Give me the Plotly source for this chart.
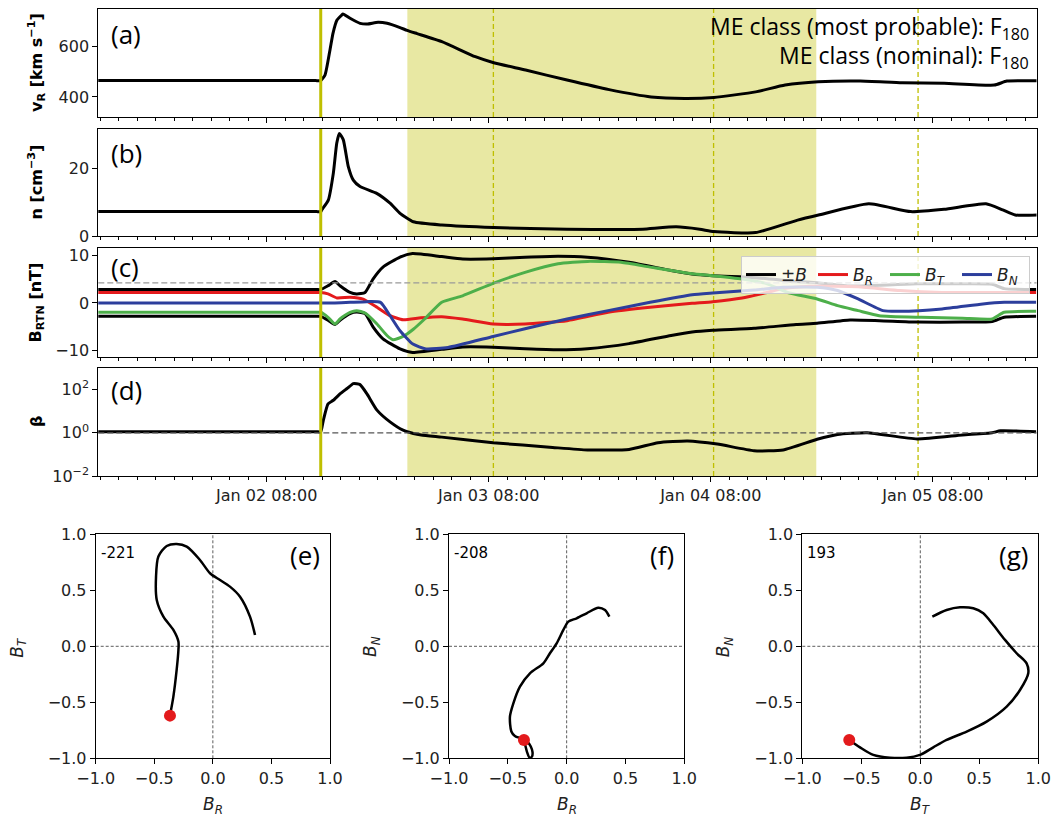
import pandas as pd
import plotly.graph_objects as go

# ---------------- data (time in hours relative to Jan 02 08:00) ----------------
T_REF = pd.Timestamp("2024-01-02 08:00")
X_RANGE_H = [-18.2, 83.2]
SHOCK_H = 5.84
ME_START_H = 15.2
ME_END_H = 59.4
DASHED_H = [24.5, 48.3, 70.4]

v_hours = [-18.3, -6.0, 4.0, 5.3, 5.8, 6.3, 6.84, 7.17, 7.6, 8.11, 8.25, 9.01, 10.09, 10.84, 12.03, 13.01,
           14.41, 15.17, 16.25, 18.93, 22.55, 24.54, 27.98, 32.46, 37.01, 41.55, 45.17, 48.33, 52.85,
           56.03, 59.6, 64.14, 68.68, 73.22, 78.63, 80.0, 83.35]
v_vals = [465, 465, 465, 465, 465, 487, 587, 654, 706, 726, 730, 713, 693, 690, 697, 693,
          676, 665, 652, 620, 560, 536, 507, 467, 429, 400, 394, 398, 420,
          447, 460, 463, 456, 454, 447, 463, 464]

n_hours = [-18.3, -6.0, 4.0, 5.4, 5.84, 5.95, 6.66, 7.2, 7.57, 7.85, 8.28, 8.82, 9.36, 10.09, 11.89,
           13.33, 14.41, 15.85, 18.93, 24.54, 32.46, 38.2, 40.65, 44.25, 46.8, 48.33, 52.85, 57.38,
           59.64, 65.07, 69.6, 73.22, 77.74, 79.55, 80.9, 83.35]
n_vals = [7.2, 7.2, 7.2, 7.2, 7.2, 7.7, 10.6, 18.5, 27.4, 30.3, 28.4, 20.5, 16.5, 14.6, 12.6,
          9.7, 6.7, 4.2, 3.25, 2.5, 2.0, 1.9, 2.0, 2.7, 2.0, 1.3, 1.0, 4.7,
          6.2, 9.5, 7.2, 7.9, 9.5, 7.7, 6.2, 6.2]

b_hours = [-18.3, -6.0, 4.0, 5.4, 5.84, 6.63, 7.38, 7.92, 9.01, 9.73, 10.63, 11.49, 12.57, 14.41,
           15.76, 18.92, 21.17, 24.47, 27.92, 31.49, 34.68, 39.17, 43.71, 45.98, 48.2, 52.68,
           57.22, 59.49, 63.06, 66.2, 70.3, 75.17, 78.41, 79.71, 83.17]
b_mag = [2.8, 2.8, 2.8, 2.8, 2.8, 3.6, 4.5, 3.6, 2.2, 1.9, 2.2, 5.0, 7.5, 9.6,
         10.35, 9.7, 9.2, 9.25, 9.55, 9.76, 9.55, 8.5, 6.8, 6.07, 5.7, 5.3,
         4.5, 4.25, 3.55, 3.7, 4.0, 4.0, 3.9, 3.0, 2.8]

br_hours = [-18.3, -6.0, 4.0, 5.4, 5.84, 6.63, 7.6, 9.01, 10.42, 11.92, 13.33, 14.74, 16.68, 18.92,
            21.17, 24.47, 27.92, 32.46, 36.9, 41.44, 45.98, 48.2, 51.38, 54.09, 55.82, 58.73,
            63.92, 68.46, 73.0, 78.0, 83.17]
br_vals = [2.2, 2.2, 2.2, 2.2, 2.2, 1.9, 1.05, 1.2, 0.8, -0.9, -2.65, -3.5, -3.1, -2.86,
           -3.35, -4.4, -4.4, -3.7, -1.95, -0.9, -0.07, 0.28, 1.05, 2.2, 3.0, 3.5,
           3.4, 2.6, 2.2, 2.2, 2.2]

bt_hours = [-18.3, -6.0, 4.0, 5.4, 5.84, 6.63, 7.38, 7.92, 9.01, 9.73, 10.63, 11.92, 13.0, 13.65,
            14.74, 15.85, 17.1, 18.92, 21.17, 24.47, 27.92, 31.49, 34.68, 38.3, 41.44, 45.98,
            48.2, 51.38, 54.09, 56.3, 59.49, 61.7, 63.92, 66.2, 70.75, 75.2, 78.41, 79.71, 83.17]
bt_vals = [-1.95, -1.95, -1.95, -1.95, -1.95, -3.0, -4.4, -3.35, -1.95, -1.6, -2.1, -4.4, -6.8, -7.7,
           -7.0, -5.5, -3.3, 0.14, 1.5, 4.1, 6.4, 8.2, 8.7, 8.5, 7.5, 6.1,
           5.7, 5.0, 4.0, 2.2, 0.84, -0.56, -1.6, -2.65, -3.0, -3.2, -3.35, -1.95, -1.75]

bn_hours = [-18.3, -6.0, 4.0, 5.84, 7.2, 9.01, 10.84, 12.3, 13.33, 14.41, 15.8, 17.2, 19.6, 24.47,
            27.92, 32.46, 36.9, 41.44, 45.98, 48.2, 52.68, 55.82, 59.49, 61.7, 63.92, 66.6,
            68.46, 73.0, 77.4, 79.71, 83.17]
bn_vals = [0.0, 0.0, 0.0, 0.0, 0.0, 0.14, 0.28, 0.14, -2.65, -5.8, -8.6, -9.6, -9.3, -7.0,
           -5.4, -3.35, -1.6, 0.14, 1.74, 2.1, 2.7, 3.3, 3.3, 2.6, 0.84, -1.6,
           -1.75, -1.25, -0.2, 0.14, 0.14]

beta_hours = [-18.3, -6.0, 4.0, 5.4, 5.84, 6.12, 6.63, 7.2, 7.92, 8.68, 9.36, 10.09, 10.84, 11.92,
              13.33, 14.74, 15.85, 16.7, 18.92, 24.47, 30.9, 34.68, 39.17, 42.3, 45.5, 48.7,
              52.68, 55.82, 59.49, 61.7, 64.9, 70.3, 75.17, 78.41, 79.3, 83.17]
beta_vals = [1.12, 1.12, 1.12, 1.12, 1.12, 3.8, 22, 32, 63, 112, 190, 170, 63, 11.2,
             3.2, 1.32, 0.93, 0.79, 0.63, 0.35, 0.21, 0.16, 0.17, 0.35, 0.42, 0.30,
             0.148, 0.16, 0.5, 0.83, 1.0, 0.52, 0.79, 1.0, 1.23, 1.12]

B_REF_LINE = 4.2
BETA_REF_LINE = 1.0

# hodograms (normalised components inside the ME)
e_br = [-0.366, -0.337, -0.309, -0.294, -0.294, -0.337, -0.422, -0.479, -0.485, -0.465, -0.394,
        -0.309, -0.223, -0.110, -0.024, 0.061, 0.146, 0.232, 0.317, 0.360]
e_bt = [-0.619, -0.449, -0.211, -0.033, 0.042, 0.146, 0.265, 0.414, 0.622, 0.801, 0.896,
        0.914, 0.890, 0.771, 0.652, 0.592, 0.533, 0.443, 0.265, 0.101]
f_br = [-0.363, -0.350, -0.335, -0.315, -0.295, -0.290, -0.305, -0.330, -0.380, -0.440, -0.470,
        -0.482, -0.453, -0.397, -0.312, -0.198, -0.142, -0.085, -0.028, 0.014, 0.085, 0.170,
        0.269, 0.326, 0.363]
f_bn = [-0.836, -0.89, -0.95, -0.995, -0.985, -0.945, -0.895, -0.855, -0.825, -0.80, -0.76,
        -0.628, -0.509, -0.360, -0.241, -0.152, -0.062, 0.027, 0.146, 0.220, 0.250, 0.295,
        0.345, 0.324, 0.265]
g_bt = [-0.602, -0.511, -0.398, -0.257, -0.116, -0.003, 0.110, 0.223, 0.393, 0.562, 0.732,
        0.845, 0.915, 0.901, 0.816, 0.718, 0.619, 0.534, 0.449, 0.336, 0.223, 0.102]
g_bn = [-0.836, -0.902, -0.970, -0.995, -0.995, -0.970, -0.902, -0.836, -0.762, -0.673, -0.539,
        -0.390, -0.241, -0.152, -0.062, 0.057, 0.190, 0.295, 0.339, 0.348, 0.324, 0.265]
hodo_numbers = ["-221", "-208", "193"]
hodo_letters = ["(e)", "(f)", "(g)"]
me_class_lines = ["ME class (most probable): F<sub>180</sub>",
                  "ME class (nominal): F<sub>180</sub>"]

# ---------------- helpers ----------------
W, H = 1055, 821


def t(hours):
    return [T_REF + pd.Timedelta(hours=h) for h in hours]


def ts(h):
    return (T_REF + pd.Timedelta(hours=h)).strftime("%Y-%m-%d %H:%M:%S")


def px(x):
    return x / W


def py(y):
    return 1 - y / H


TICKFONT = dict(family="DejaVu Sans", size=16, color="#222")
YELLOW = "#bfbf00"
RED, GREEN, BLUE = "#e41a1c", "#4daf4a", "#2c3e9c"
TOP_LINE = dict(width=3, shape="spline", smoothing=0.5)

fig = go.Figure()

# panel a
fig.add_trace(go.Scatter(x=t(v_hours), y=v_vals, mode="lines", line=dict(color="black", **TOP_LINE),
                         showlegend=False, xaxis="x", yaxis="y"))
# panel b
fig.add_trace(go.Scatter(x=t(n_hours), y=n_vals, mode="lines", line=dict(color="black", **TOP_LINE),
                         showlegend=False, xaxis="x2", yaxis="y2"))
# panel c
fig.add_trace(go.Scatter(x=t(b_hours), y=b_mag, mode="lines", line=dict(color="black", **TOP_LINE),
                         name="±<i>B</i>", legendgroup="b", xaxis="x3", yaxis="y3"))
fig.add_trace(go.Scatter(x=t(b_hours), y=[-v for v in b_mag], mode="lines",
                         line=dict(color="black", **TOP_LINE), showlegend=False, legendgroup="b",
                         xaxis="x3", yaxis="y3"))
fig.add_trace(go.Scatter(x=t(br_hours), y=br_vals, mode="lines", line=dict(color=RED, **TOP_LINE),
                         name="<i>B</i><sub><i>R</i></sub>", xaxis="x3", yaxis="y3"))
fig.add_trace(go.Scatter(x=t(bt_hours), y=bt_vals, mode="lines", line=dict(color=GREEN, **TOP_LINE),
                         name="<i>B</i><sub><i>T</i></sub>", xaxis="x3", yaxis="y3"))
fig.add_trace(go.Scatter(x=t(bn_hours), y=bn_vals, mode="lines", line=dict(color=BLUE, **TOP_LINE),
                         name="<i>B</i><sub><i>N</i></sub>", xaxis="x3", yaxis="y3"))
# panel d
fig.add_trace(go.Scatter(x=t(beta_hours), y=beta_vals, mode="lines", line=dict(color="black", **TOP_LINE),
                         showlegend=False, xaxis="x4", yaxis="y4"))

# hodograms
for i, (hx, hy) in enumerate([(e_br, e_bt), (f_br, f_bn), (g_bt, g_bn)]):
    ax = str(5 + i)
    fig.add_trace(go.Scatter(x=hx, y=hy, mode="lines",
                             line=dict(color="black", width=2.5, shape="spline", smoothing=0.8),
                             showlegend=False, xaxis="x" + ax, yaxis="y" + ax))
    fig.add_trace(go.Scatter(x=[hx[0]], y=[hy[0]], mode="markers", marker=dict(color="#e31a1c", size=12),
                             showlegend=False, xaxis="x" + ax, yaxis="y" + ax, cliponaxis=False))

# ---------------- axes ----------------
top_x_dom = [px(98.3), px(1036.5)]
top_y_px = [(9, 117), (129, 236), (248, 357), (368, 476)]
for i, (y0, y1) in enumerate(top_y_px):
    k = "" if i == 0 else str(i + 1)
    fig.layout["xaxis" + k] = dict(
        domain=top_x_dom, anchor="y" + k, type="date", range=[ts(X_RANGE_H[0]), ts(X_RANGE_H[1])],
        autorange=False, automargin=False,
        showline=True, linecolor="black", linewidth=1, mirror=True, ticks="outside", ticklen=5,
        tickcolor="black", tick0=ts(0), dtick=86400000, tickformat="%b %d %H:%M",
        showticklabels=(i == 3), tickfont=TICKFONT, showgrid=False, zeroline=False,
        minor=dict(ticks="outside", ticklen=3, tickcolor="black", dtick=7200000, tick0=ts(0), showgrid=False))
    fig.layout["yaxis" + k] = dict(
        domain=[py(y1), py(y0)], anchor="x" + k, showline=True, linecolor="black", linewidth=1,
        mirror=True, ticks="outside", ticklen=5, tickcolor="black", tickfont=TICKFONT,
        showgrid=False, zeroline=False, automargin=False, autorange=False)

fig.layout.yaxis.update(range=[320, 750], tickvals=[400, 600])
fig.layout.yaxis2.update(range=[0, 31.6], tickvals=[0, 20])
fig.layout.yaxis3.update(range=[-11.3, 11.5], tickvals=[-10, 0, 10], ticktext=["−10", "0", "10"])
fig.layout.yaxis4.update(type="log", range=[-2, 3], tickvals=[0.01, 1, 100],
                         ticktext=["10<sup>−2</sup>", "10<sup>0</sup>", "10<sup>2</sup>"])

hodo_x_px = [(95.7, 330), (449, 684.3), (802.3, 1038.3)]
hodo_y_dom = [py(758.3), py(534.3)]
for i, (x0, x1) in enumerate(hodo_x_px):
    k = str(5 + i)
    common = dict(range=[-1, 1], autorange=False, automargin=False, tickvals=[-1, -0.5, 0, 0.5, 1],
                  tickformat=".1f", showline=True,
                  linecolor="black", linewidth=1, mirror=True, ticks="outside", ticklen=5,
                  tickcolor="black", tickfont=TICKFONT, showgrid=False, zeroline=False)
    fig.layout["xaxis" + k] = dict(domain=[px(x0), px(x1)], anchor="y" + k, **common)
    fig.layout["yaxis" + k] = dict(domain=hodo_y_dom, anchor="x" + k, **common)

# ---------------- shapes ----------------
shapes = []
for i in range(4):
    k = "" if i == 0 else str(i + 1)
    shapes.append(dict(type="rect", xref="x" + k, yref="y" + k + " domain", x0=ts(ME_START_H), x1=ts(ME_END_H),
                       y0=0, y1=1, fillcolor="rgba(191,191,0,0.36)", line=dict(width=0), layer="below"))
    for dh in DASHED_H:
        shapes.append(dict(type="line", xref="x" + k, yref="y" + k + " domain", x0=ts(dh), x1=ts(dh), y0=0, y1=1,
                           line=dict(color=YELLOW, width=1.3, dash="5px,3px"), layer="below"))
    shapes.append(dict(type="line", xref="x" + k, yref="y" + k + " domain", x0=ts(SHOCK_H), x1=ts(SHOCK_H),
                       y0=0, y1=1, line=dict(color=YELLOW, width=3), layer="above"))
shapes.append(dict(type="line", xref="x3 domain", yref="y3", x0=0, x1=1, y0=B_REF_LINE, y1=B_REF_LINE,
                   line=dict(color="#999", width=1.3, dash="6px,3px"), layer="above"))
shapes.append(dict(type="line", xref="x4 domain", yref="y4", x0=0, x1=1, y0=BETA_REF_LINE, y1=BETA_REF_LINE,
                   line=dict(color="#555", width=1.3, dash="6px,3px"), layer="above"))
for i in range(3):
    k = str(5 + i)
    shapes.append(dict(type="line", xref="x" + k, yref="y" + k + " domain", x0=0, x1=0, y0=0, y1=1,
                       line=dict(color="#333", width=0.8, dash="3px,2px"), layer="below"))
    shapes.append(dict(type="line", xref="x" + k + " domain", yref="y" + k, x0=0, x1=1, y0=0, y1=0,
                       line=dict(color="#333", width=0.8, dash="3px,2px"), layer="below"))

# ---------------- annotations ----------------
ann = []
LABEL_FONT = dict(family="Open Sans", size=26, color="black")
for lab, yc in zip(["(a)", "(b)", "(c)", "(d)"], [34, 153, 267, 390]):
    ann.append(dict(text=lab, x=px(109), y=py(yc), xref="paper", yref="paper", xanchor="left",
                    yanchor="middle", showarrow=False, font=LABEL_FONT))
for line, yc in zip(me_class_lines, [28, 56]):
    ann.append(dict(text=line, x=px(1031), y=py(yc), xref="paper", yref="paper", xanchor="right",
                    yanchor="middle", showarrow=False, font=dict(family="Open Sans", size=23, color="black")))
YLAB_FONT = dict(family="DejaVu Sans", size=16, color="black")
for lab, (y0, y1) in zip(["v<sub>R</sub> [km s<sup>−1</sup>]", "n [cm<sup>−3</sup>]", "B<sub>RTN</sub> [nT]", "β"],
                         top_y_px):
    ann.append(dict(text="<b>" + lab + "</b>", x=px(36), y=py((y0 + y1) / 2), xref="paper", yref="paper",
                    xanchor="center", yanchor="middle", textangle=-90, showarrow=False, font=YLAB_FONT))

AX_FONT = dict(family="DejaVu Sans", size=17, color="#222")
hodo_xt = ["<i>B</i><sub><i>R</i></sub>", "<i>B</i><sub><i>R</i></sub>", "<i>B</i><sub><i>T</i></sub>"]
hodo_yt = ["<i>B</i><sub><i>T</i></sub>", "<i>B</i><sub><i>N</i></sub>", "<i>B</i><sub><i>N</i></sub>"]
for i, (x0, x1) in enumerate(hodo_x_px):
    ann.append(dict(text=hodo_numbers[i], x=px(x0 + 3), y=py(553), xref="paper", yref="paper",
                    xanchor="left", yanchor="middle", showarrow=False,
                    font=dict(family="DejaVu Sans", size=15, color="black")))
    ann.append(dict(text=hodo_letters[i], x=px(x1 - 8), y=py(555), xref="paper", yref="paper",
                    xanchor="right", yanchor="middle", showarrow=False, font=LABEL_FONT))
    ann.append(dict(text=hodo_xt[i], x=px((x0 + x1) / 2), y=py(805), xref="paper", yref="paper",
                    xanchor="center", yanchor="middle", showarrow=False, font=AX_FONT))
    ann.append(dict(text=hodo_yt[i], x=px(x0 - 78), y=py(647), xref="paper", yref="paper",
                    xanchor="center", yanchor="middle", textangle=-90, showarrow=False, font=AX_FONT))

fig.update_layout(
    width=W, height=H, margin=dict(l=0, r=0, t=0, b=0, autoexpand=False), plot_bgcolor="white",
    paper_bgcolor="white", shapes=shapes, annotations=ann,
    legend=dict(orientation="h", x=px(1030), xanchor="right", y=py(256), yanchor="top",
                bgcolor="rgba(255,255,255,0.8)", bordercolor="#cccccc", borderwidth=1,
                font=dict(family="DejaVu Sans", size=17, color="#222"), itemwidth=30,
                entrywidth=27, entrywidthmode="pixels"),
)

fig.write_html("out.html")
